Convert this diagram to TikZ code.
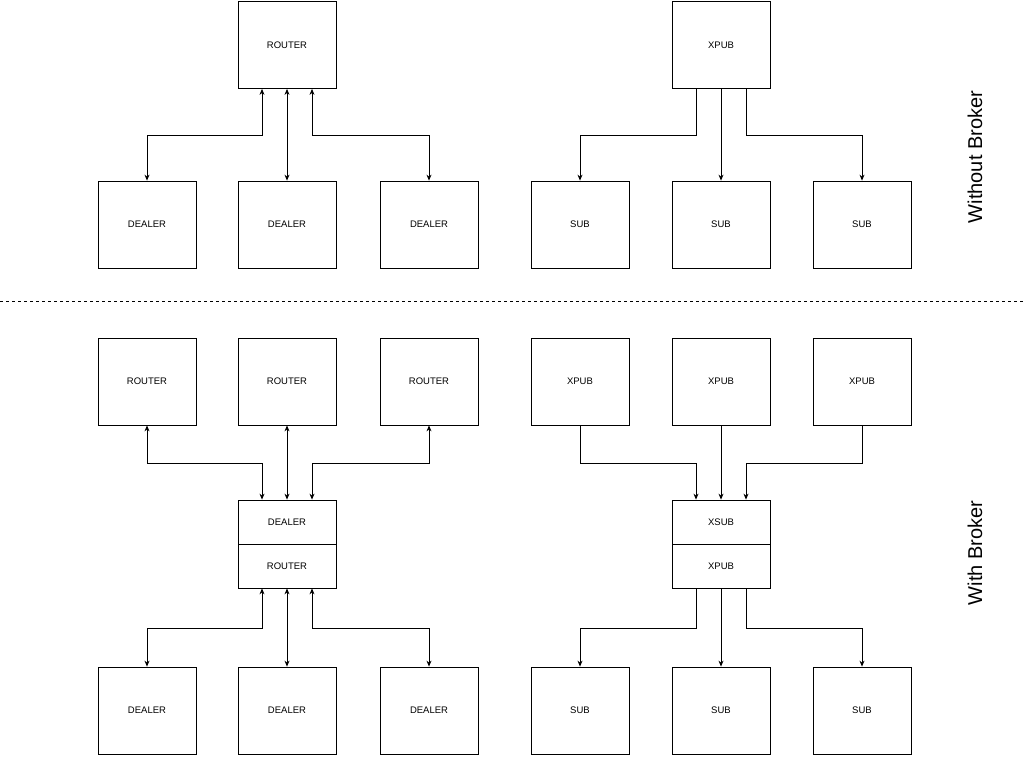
\documentclass[tikz,border=0pt]{standalone}
\usepackage{fontspec}
\setmainfont{Liberation Sans}
\usetikzlibrary{arrows.meta}
\begin{document}
\begin{tikzpicture}[x=1pt,y=-1pt,
  box/.style={draw,line width=0.8pt,minimum width=98pt,minimum height=87pt,inner sep=0pt,font=\fontsize{9.5}{11}\selectfont},
  half/.style={box,minimum height=44pt},
  con/.style={line width=0.8pt,{Stealth[length=6pt,width=5pt]}-{Stealth[length=6pt,width=5pt]}},
  one/.style={line width=0.8pt,-{Stealth[length=6pt,width=5pt]}}]
\useasboundingbox (0,0) rectangle (1024,756);
\coordinate (h1) at (0,135);
\coordinate (h2) at (0,463);
\coordinate (h3) at (0,628);
% top
\node[box] (R) at (287,45) {ROUTER};
\node[box] (X) at (721,45) {XPUB};
\node[box] (D1) at (147,224.5) {DEALER};
\node[box] (D2) at (287,224.5) {DEALER};
\node[box] (D3) at (429,224.5) {DEALER};
\node[box] (S1) at (580,224.5) {SUB};
\node[box] (S2) at (721,224.5) {SUB};
\node[box] (S3) at (862,224.5) {SUB};
\draw[con] ([xshift=-25pt]R.south) -- ([xshift=-25pt]R.south |- h1) -| (D1.north);
\draw[con] (R.south) -- (D2.north);
\draw[con] ([xshift=25pt]R.south) -- ([xshift=25pt]R.south |- h1) -| (D3.north);
\draw[one] ([xshift=-25pt]X.south) -- ([xshift=-25pt]X.south |- h1) -| (S1.north);
\draw[one] (X.south) -- (S2.north);
\draw[one] ([xshift=25pt]X.south) -- ([xshift=25pt]X.south |- h1) -| (S3.north);
\draw[dashed,line width=0.6pt] (0,301) -- (1024,301);
\node[rotate=90,font=\fontsize{20}{24}\selectfont] (L1) at (975,157) {Without Broker};
\node[rotate=90,font=\fontsize{20}{24}\selectfont] (L2) at (975,553) {With Broker};
% bottom
\node[box] (BR1) at (147,381.5) {ROUTER};
\node[box] (BR2) at (287,381.5) {ROUTER};
\node[box] (BR3) at (429,381.5) {ROUTER};
\node[box] (BX1) at (580,381.5) {XPUB};
\node[box] (BX2) at (721,381.5) {XPUB};
\node[box] (BX3) at (862,381.5) {XPUB};
\node[half] (MD) at (287,522) {DEALER};
\node[half] (MR) at (287,566) {ROUTER};
\node[half] (MS) at (721,522) {XSUB};
\node[half] (MX) at (721,566) {XPUB};
\node[box] (E1) at (147,710.5) {DEALER};
\node[box] (E2) at (287,710.5) {DEALER};
\node[box] (E3) at (429,710.5) {DEALER};
\node[box] (U1) at (580,710.5) {SUB};
\node[box] (U2) at (721,710.5) {SUB};
\node[box] (U3) at (862,710.5) {SUB};
\draw[con] (BR1.south) -- (BR1.south |- h2) -| ([xshift=-25pt]MD.north);
\draw[con] (BR2.south) -- (MD.north);
\draw[con] (BR3.south) -- (BR3.south |- h2) -| ([xshift=25pt]MD.north);
\draw[one] (BX1.south) -- (BX1.south |- h2) -| ([xshift=-25pt]MS.north);
\draw[one] (BX2.south) -- (MS.north);
\draw[one] (BX3.south) -- (BX3.south |- h2) -| ([xshift=25pt]MS.north);
\draw[con] ([xshift=-25pt]MR.south) -- ([xshift=-25pt]MR.south |- h3) -| (E1.north);
\draw[con] (MR.south) -- (E2.north);
\draw[con] ([xshift=25pt]MR.south) -- ([xshift=25pt]MR.south |- h3) -| (E3.north);
\draw[one] ([xshift=-25pt]MX.south) -- ([xshift=-25pt]MX.south |- h3) -| (U1.north);
\draw[one] (MX.south) -- (U2.north);
\draw[one] ([xshift=25pt]MX.south) -- ([xshift=25pt]MX.south |- h3) -| (U3.north);
\end{tikzpicture}
\end{document}
